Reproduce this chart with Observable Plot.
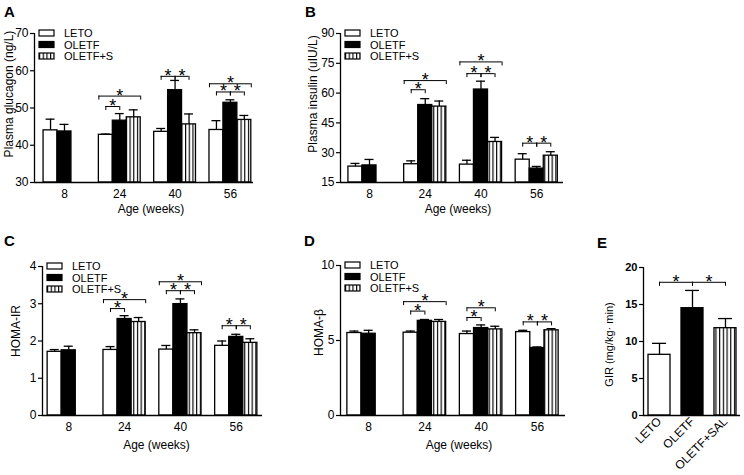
<!DOCTYPE html>
<html><head><meta charset="utf-8">
<script src="https://cdn.jsdelivr.net/npm/d3@7"></script>
<script src="https://cdn.jsdelivr.net/npm/@observablehq/plot@0.6"></script>
<style>
body{margin:0;background:#fff;}
#wrap{position:relative;width:744px;height:475px;overflow:hidden;font-family:"Liberation Sans",Arial,sans-serif;color:#000;}
.panel{position:absolute;}
.letter{position:absolute;font-weight:bold;font-size:15px;line-height:15px;}
</style></head>
<body><div id="wrap"></div>
<script>
// ---------- data ----------
const ageLabels = ["8", "24", "40", "56"];
const groupNames = ["LETO", "OLETF", "OLETF+S"];
const girNames = ["LETO", "OLETF", "OLETF+SAL"];

// A: plasma glucagon (ng/L)
const glucagonLETO = [44.0, 42.8, 43.6, 44.1];
const glucagonLETOsem = [3.0, 0.2, 0.9, 2.5];
const glucagonOLETF = [43.7, 46.6, 54.8, 51.4];
const glucagonOLETFsem = [1.9, 1.9, 2.6, 0.8];
const glucagonOLETFS = [null, 47.5, 45.6, 46.8];
const glucagonOLETFSsem = [null, 2.0, 2.8, 1.2];
const glucagonSig = [
  {age: 1, a: 0, b: 1, y: 50.4}, {age: 1, a: 0, b: 2, y: 53.2, outer: true},
  {age: 2, a: 0, b: 1, y: 58.5}, {age: 2, a: 1, b: 2, y: 58.5},
  {age: 3, a: 0, b: 2, y: 56.5, outer: true}, {age: 3, a: 0, b: 1, y: 54.3}, {age: 3, a: 1, b: 2, y: 54.3}
];
const glucagonTicks = [30, 40, 50, 60, 70];

// B: plasma insulin (uIU/L)
const insulinLETO = [23.0, 24.2, 24.0, 26.5];
const insulinLETOsem = [1.6, 1.7, 2.2, 3.0];
const insulinOLETF = [23.6, 54.0, 61.8, 22.0];
const insulinOLETFsem = [3.0, 3.2, 4.2, 1.1];
const insulinOLETFS = [null, 53.2, 35.4, 28.5];
const insulinOLETFSsem = [null, 2.8, 2.3, 2.0];
const insulinSig = [
  {age: 1, a: 0, b: 1, y: 61.7}, {age: 1, a: 0, b: 2, y: 66.3, outer: true},
  {age: 2, a: 0, b: 1, y: 69.8}, {age: 2, a: 1, b: 2, y: 69.8}, {age: 2, a: 0, b: 2, y: 75.7, outer: true},
  {age: 3, a: 0, b: 1, y: 34.8}, {age: 3, a: 1, b: 2, y: 34.8}
];
const insulinTicks = [15, 30, 45, 60, 75, 90];

// C: HOMA-IR
const homaIrLETO = [1.71, 1.76, 1.77, 1.87];
const homaIrLETOsem = [0.06, 0.09, 0.11, 0.13];
const homaIrOLETF = [1.75, 2.59, 2.99, 2.11];
const homaIrOLETFsem = [0.11, 0.09, 0.14, 0.07];
const homaIrOLETFS = [null, 2.51, 2.21, 1.95];
const homaIrOLETFSsem = [null, 0.12, 0.09, 0.11];
const homaIrSig = [
  {age: 1, a: 0, b: 1, y: 2.87}, {age: 1, a: 0, b: 2, y: 3.11, outer: true},
  {age: 2, a: 0, b: 1, y: 3.35}, {age: 2, a: 1, b: 2, y: 3.35}, {age: 2, a: 0, b: 2, y: 3.59, outer: true},
  {age: 3, a: 0, b: 1, y: 2.41}, {age: 3, a: 1, b: 2, y: 2.41}
];
const homaIrTicks = [0, 1, 2, 3, 4];

// D: HOMA-beta
const homaBLETO = [5.50, 5.52, 5.43, 5.56];
const homaBLETOsem = [0.13, 0.11, 0.20, 0.12];
const homaBOLETF = [5.45, 6.31, 5.83, 4.50];
const homaBOLETFsem = [0.23, 0.09, 0.21, 0.07];
const homaBOLETFS = [null, 6.24, 5.74, 5.68];
const homaBOLETFSsem = [null, 0.16, 0.21, 0.11];
const homaBSig = [
  {age: 1, a: 0, b: 1, y: 6.96}, {age: 1, a: 0, b: 2, y: 7.59, outer: true},
  {age: 2, a: 0, b: 1, y: 6.53}, {age: 2, a: 0, b: 2, y: 7.18},
  {age: 3, a: 0, b: 1, y: 6.24}, {age: 3, a: 1, b: 2, y: 6.24}
];
const homaBTicks = [0, 5, 10];

// E: GIR (mg/kg·min)
const girMean = [8.2, 14.5, 11.8];
const girSem = [1.55, 2.4, 1.3];
const girSig = [{a: 0, b: 1, y: 18.0}, {a: 1, b: 2, y: 18.0}];
const girTicks = [0, 5, 10, 15, 20];

// ---------- drawing ----------
const FONT = '"Liberation Sans", Arial, sans-serif';
const wrap = document.getElementById("wrap");

function groupedRows(series, sems, W) {
  const rows = [];
  series.forEach((vals, si) => vals.forEach((m, gi) => {
    if (m == null) return;
    rows.push({si, xc: gi + (si - 1) * W, mean: m, top: m + sems[si][gi]});
  }));
  return rows;
}
function groupedSig(sig, W) {
  return sig.map(s => {
    const e = s.outer ? 0.5 : 0;
    return {x1: s.age + (s.a - 1 - e) * W, x2: s.age + (s.b - 1 + e) * W, y: s.y};
  });
}

function makePanel(p) {
  const yMin = p.yDomain[0];
  const ySpan = p.yDomain[1] - p.yDomain[0];
  const frameH = p.height - p.mt - p.mb;
  const drop = ySpan * 4 / frameH;
  const half = p.W / 2, cap = p.W * 0.32;
  const pat = "stripes" + p.id;
  const fills = ["white", "black", `url(#${pat})`];
  const ends = p.br.flatMap(b => [{x: b.x1, y: b.y}, {x: b.x2, y: b.y}]);
  const marks = [];
  [0, 1, 2].forEach(si => {
    marks.push(Plot.rect(p.rows.filter(d => d.si === si), {
      x1: d => d.xc - half, x2: d => d.xc + half, y1: d => yMin, y2: "mean",
      fill: fills[si], stroke: "black", strokeWidth: 1.3
    }));
  });
  marks.push(
    Plot.ruleX(p.rows, {x: "xc", y1: "mean", y2: "top", strokeWidth: 1.3}),
    Plot.ruleY(p.rows, {y: "top", x1: d => d.xc - cap, x2: d => d.xc + cap, strokeWidth: 1.3}),
    Plot.ruleY(p.br, {y: "y", x1: "x1", x2: "x2", strokeWidth: 1}),
    Plot.ruleX(ends, {x: "x", y1: "y", y2: d => d.y - drop, strokeWidth: 1}),
    Plot.text(p.br, {x: d => (d.x1 + d.x2) / 2, y: "y", text: d => "*", fontSize: 18, lineAnchor: "bottom", dy: 5.5}),
    Plot.ruleX([p.xDomain[0]], {strokeWidth: 1.3}),
    Plot.ruleY([yMin], {strokeWidth: 1.3}),
    Plot.axisY({ticks: p.yTicks, tickFormat: d => String(d), tickSize: 4, tickPadding: 2, label: null, strokeWidth: 1.2,
      fontSize: p.yTickFont || 12, fontWeight: p.boldY ? "bold" : "normal"}),
    Plot.axisX({ticks: p.xTicks, tickFormat: i => p.xLabels[i], tickSize: 0, tickPadding: p.tickRotate ? 4 : 7, label: null,
      fontSize: 12, tickRotate: p.tickRotate || 0}),
    Plot.text([p.yLabel], {frameAnchor: "left", textAnchor: "middle", lineAnchor: "middle", rotate: -90,
      dx: p.ylx, dy: p.yly, fontSize: p.yFont || 12})
  );
  if (p.xLabel) marks.push(Plot.text([p.xLabel], {frameAnchor: "bottom", textAnchor: "middle", lineAnchor: "middle",
    dx: p.xlx, dy: p.xly, fontSize: 12}));
  const svg = Plot.plot({
    width: p.width, height: p.height,
    marginLeft: p.ml, marginRight: p.mr, marginTop: p.mt, marginBottom: p.mb,
    x: {type: "linear", domain: p.xDomain},
    y: {domain: p.yDomain},
    style: {fontFamily: FONT, fontSize: "12px", color: "black", background: "transparent", overflow: "visible"},
    marks
  });
  const s = d3.select(svg);
  s.insert("defs", ":first-child").html(
    `<pattern id="${pat}" patternUnits="userSpaceOnUse" width="3.7" height="10">` +
    `<rect width="3.7" height="10" fill="white"/><rect x="0" width="1.15" height="10" fill="black"/></pattern>`);
  if (p.legend) {
    const g = s.append("g").attr("transform", `translate(${p.ml + 5},${p.mt})`)
      .attr("font-family", FONT).attr("font-size", 11).attr("text-anchor", "start");
    groupNames.forEach((name, i) => {
      g.append("rect").attr("x", 0).attr("y", i * 11.5 - 3).attr("width", 15).attr("height", 6)
        .attr("fill", fills[i]).attr("stroke", "black").attr("stroke-width", 1.2);
      g.append("text").attr("x", 25).attr("y", i * 11.5 + 4).attr("text-anchor", "start").text(name);
    });
  }
  svg.classList.add("panel");
  svg.style.left = p.left + "px";
  svg.style.top = p.top + "px";
  wrap.appendChild(svg);
  const L = document.createElement("div");
  L.className = "letter";
  L.textContent = p.id;
  L.style.left = p.letterX + "px";
  L.style.top = p.letterY + "px";
  wrap.appendChild(L);
}

const W = 0.252;
const common = {W, xTicks: [0, 1, 2, 3], xLabels: ageLabels, xLabel: "Age (weeks)", legend: true};

makePanel({...common, id: "A", left: 0, top: 0, width: 300, height: 237, ml: 34, mr: 47, mt: 33, mb: 55,
  xDomain: [-0.542, 3.418], yDomain: [30, 70], yTicks: glucagonTicks, yLabel: "Plasma glucagon (ng/L)",
  rows: groupedRows([glucagonLETO, glucagonOLETF, glucagonOLETFS], [glucagonLETOsem, glucagonOLETFsem, glucagonOLETFSsem], W),
  br: groupedSig(glucagonSig, W), ylx: -25, yly: -14, xlx: 7, xly: 27, letterX: 4, letterY: 4});

makePanel({...common, id: "B", left: 300, top: 0, width: 300, height: 237, ml: 40, mr: 37, mt: 33, mb: 55,
  xDomain: [-0.52, 3.48], yDomain: [15, 90], yTicks: insulinTicks, yLabel: "Plasma insulin (uIU/L)",
  rows: groupedRows([insulinLETO, insulinOLETF, insulinOLETFS], [insulinLETOsem, insulinOLETFsem, insulinOLETFSsem], W),
  br: groupedSig(insulinSig, W), ylx: -27, yly: -14, xlx: 6, xly: 27, letterX: 305, letterY: 4});

makePanel({...common, id: "C", left: 0, top: 237, width: 300, height: 238, ml: 42, mr: 38, mt: 29, mb: 60,
  xDomain: [-0.47, 3.47], yDomain: [0, 4], yTicks: homaIrTicks, yLabel: "HOMA-IR",
  rows: groupedRows([homaIrLETO, homaIrOLETF, homaIrOLETFS], [homaIrLETOsem, homaIrOLETFsem, homaIrOLETFSsem], W),
  br: groupedSig(homaIrSig, W), ylx: -26, yly: -10, xlx: 4, xly: 30, letterX: 4, letterY: 233});

makePanel({...common, id: "D", left: 300, top: 237, width: 297, height: 238, ml: 40, mr: 32, mt: 28, mb: 60,
  xDomain: [-0.5, 3.5], yDomain: [0, 10], yTicks: homaBTicks, yLabel: "HOMA-β",
  rows: groupedRows([homaBLETO, homaBOLETF, homaBOLETFS], [homaBLETOsem, homaBOLETFsem, homaBOLETFSsem], W),
  br: groupedSig(homaBSig, W), ylx: -21, yly: -8, xlx: 6, xly: 30, letterX: 304, letterY: 233});

const WE = 0.667;
makePanel({id: "E", left: 597, top: 237, width: 147, height: 238, ml: 46, mr: 4, mt: 30, mb: 60,
  W: WE, xDomain: [-0.485, 2.455], yDomain: [0, 20], yTicks: girTicks, boldY: true, yTickFont: 11,
  xTicks: [0, 1, 2], xLabels: girNames, tickRotate: -45, legend: false,
  yLabel: "GIR (mg/kg· min)", yFont: 11,
  rows: girMean.map((m, i) => ({si: i, xc: i, mean: m, top: m + girSem[i]})),
  br: girSig.map(s => ({x1: s.a, x2: s.b, y: s.y})),
  ylx: -34, yly: 3, letterX: 597, letterY: 235});
</script>
</body></html>
